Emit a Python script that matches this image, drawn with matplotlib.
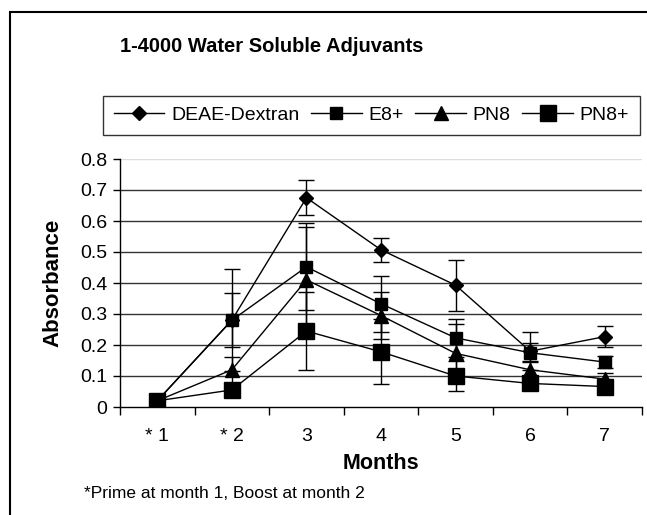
import matplotlib
matplotlib.use("Agg")
import matplotlib.pyplot as plt
from matplotlib.patches import Rectangle
import numpy as np

categories = ["* 1", "* 2", "3", "4", "5", "6", "7"]
series_names = ["DEAE-Dextran", "E8+", "PN8", "PN8+"]
deae = [0.02, 0.28, 0.675, 0.507, 0.393, 0.18, 0.227]
deae_err = [0.0, 0.164, 0.057, 0.038, 0.082, 0.062, 0.035]
e8 = [0.02, 0.28, 0.452, 0.333, 0.223, 0.175, 0.145]
e8_err = [0.0, 0.087, 0.14, 0.09, 0.062, 0.03, 0.02]
pn8 = [0.02, 0.12, 0.41, 0.295, 0.173, 0.12, 0.09]
pn8_err = [0.0, 0.042, 0.17, 0.077, 0.094, 0.03, 0.02]
pn8p = [0.02, 0.055, 0.245, 0.178, 0.1, 0.076, 0.066]
pn8p_err = [0.0, 0.02, 0.125, 0.105, 0.047, 0.015, 0.015]
yticks = [0, 0.1, 0.2, 0.3, 0.4, 0.5, 0.6, 0.7, 0.8]
ytick_labels = ["0", "0.1", "0.2", "0.3", "0.4", "0.5", "0.6", "0.7", "0.8"]

plt.rcParams['font.family'] = ['Liberation Sans', 'DejaVu Sans']

fig = plt.figure(figsize=(6.47, 5.15), dpi=100)
ax = fig.add_axes([120/647, 1-407/515, 522/647, 248/515])

x = np.arange(len(categories))
styles = [
    (deae, deae_err, 'D', 7.5),
    (e8, e8_err, 's', 8.5),
    (pn8, pn8_err, '^', 9.5),
    (pn8p, pn8p_err, 's', 11.5),
]
handles = []
for (vals, err, mk, ms), name in zip(styles, series_names):
    ax.errorbar(x, vals, yerr=err, fmt='none', ecolor='black', elinewidth=1.0,
                capsize=5.5, capthick=1.0, zorder=3)
    h, = ax.plot(x, vals, color='black', lw=1.0, marker=mk, ms=ms,
                 mfc='black', mec='black', zorder=4, label=name)
    handles.append(h)

ax.set_xlim(-0.5, len(categories) - 0.5)
ax.set_ylim(0, 0.8)
ax.set_yticks(yticks)
ax.set_yticklabels(ytick_labels, fontsize=14)
ax.set_xticks(x)
ax.set_xticklabels(categories, fontsize=14)
ax.tick_params(axis='x', which='major', length=0, pad=15)
ax.set_xticks(np.arange(-0.5, len(categories)), minor=True)
ax.tick_params(axis='x', which='minor', length=6, width=1, direction='out')
ax.tick_params(axis='y', length=5, width=1, direction='out', pad=4)

for v in yticks[1:-1]:
    ax.axhline(v, color='#333333', lw=1.0, zorder=1)
ax.axhline(0.8, color='#dddddd', lw=1.0, zorder=1)

for s in ['top', 'right']:
    ax.spines[s].set_visible(False)
ax.spines['left'].set_linewidth(1.0)
ax.spines['bottom'].set_linewidth(1.0)

ax.set_ylabel("Absorbance", fontsize=16, fontweight='bold', labelpad=12)
ax.set_xlabel("Months", fontsize=15.5, fontweight='bold', labelpad=6)

fig.text(272/647, 1-47/515, "1-4000 Water Soluble Adjuvants", fontsize=14.5,
         fontweight='bold', ha='center', va='center')
fig.text(84/647, 1-493/515, "*Prime at month 1, Boost at month 2", fontsize=12.5,
         ha='left', va='center')

leg = fig.legend(handles=handles, loc='lower left', ncol=4,
                 bbox_to_anchor=(103/647, 1-135/515, 537/647, 37/515),
                 mode='expand', fontsize=14, handlelength=2.6,
                 handletextpad=0.35, columnspacing=0.4, borderpad=0.55,
                 frameon=True, fancybox=False, edgecolor='black',
                 borderaxespad=0)
leg.get_frame().set_linewidth(1.0)

fig.patches.append(Rectangle((10/647, -0.05), 1.1, 1 - 12/515 + 0.05,
                             transform=fig.transFigure, fill=False,
                             edgecolor='black', lw=1.5))

fig.savefig("out.png", dpi=100)
